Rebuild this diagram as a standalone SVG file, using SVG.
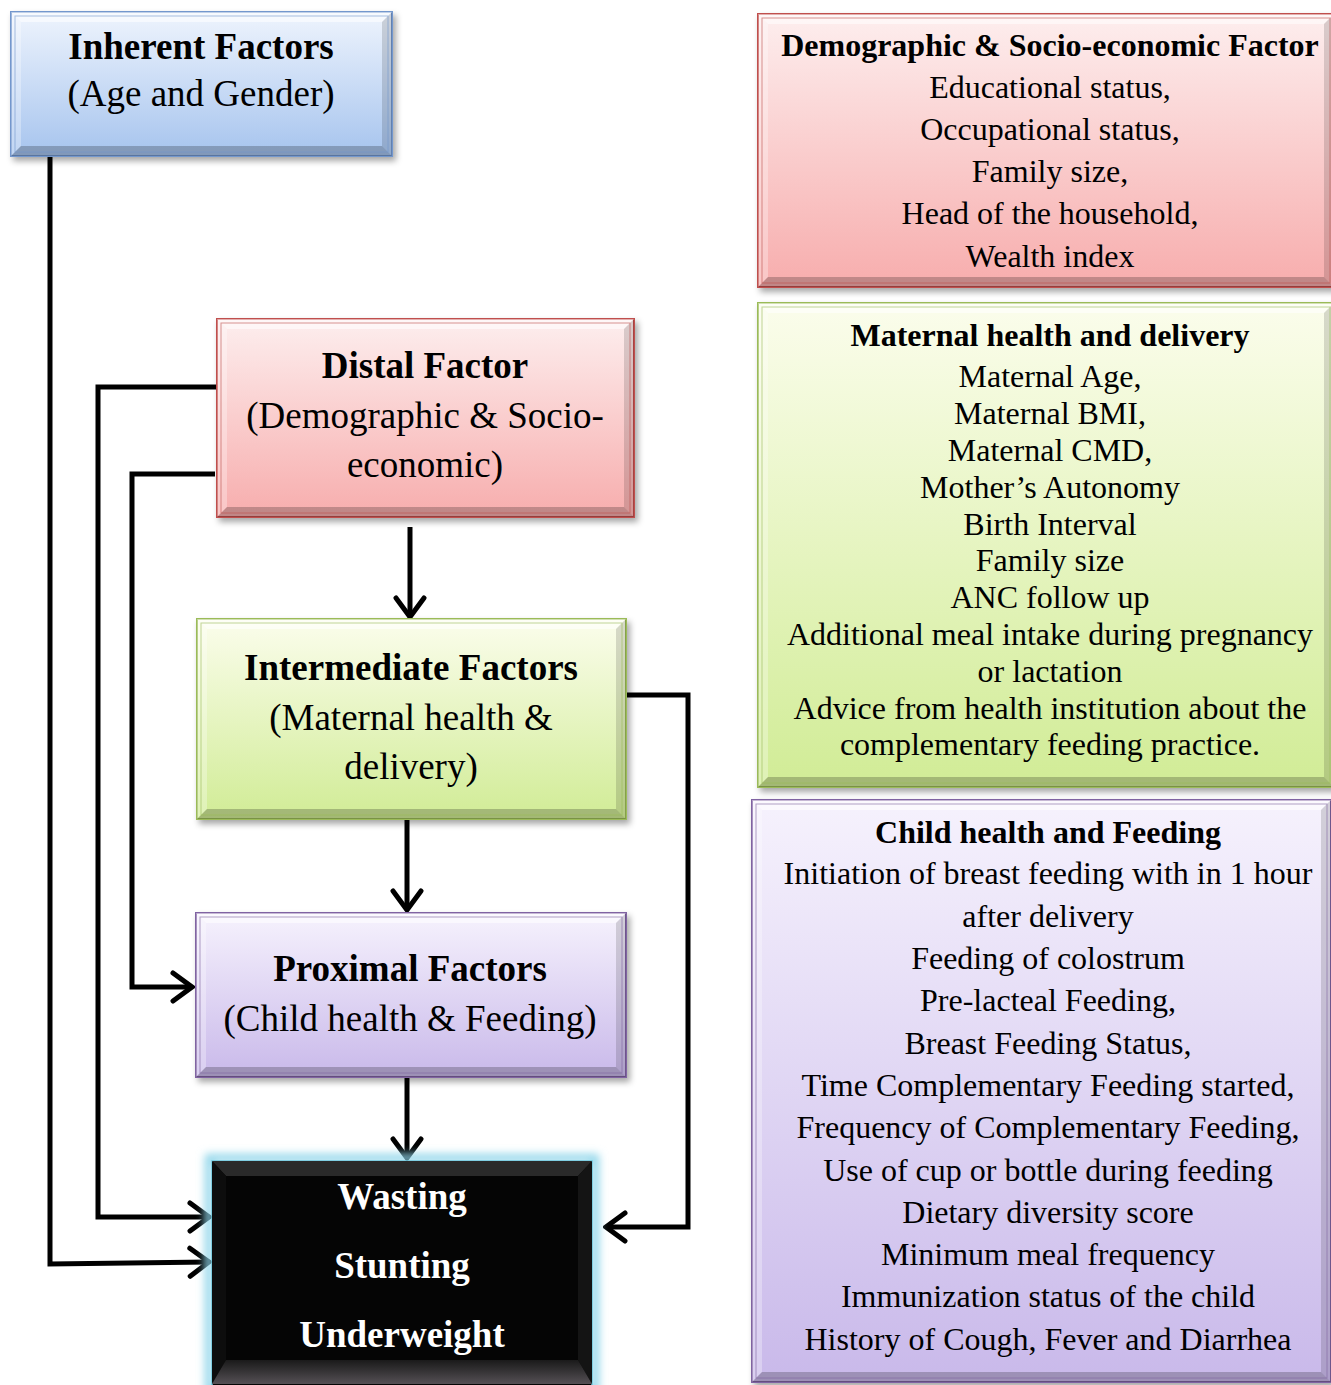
<svg xmlns="http://www.w3.org/2000/svg" width="1331" height="1385" viewBox="0 0 1331 1385">
<style>
text{font-family:"Liberation Serif","Times New Roman",serif;text-anchor:middle;fill:#000}
.lt{font-size:37px}
.b{font-weight:bold}
.rt{font-size:32px}
.wt{fill:#fff;font-weight:bold;font-size:37px}
.bt{fill:#fff;opacity:.55}
.bl{fill:#fff;opacity:.3}
.br{fill:#000;opacity:.14}
.bb{fill:#000;opacity:.22}
.conn{fill:none;stroke:#000;stroke-width:5;stroke-linejoin:miter}
</style>
<defs>
<linearGradient id="gBlue" x1="0" y1="0" x2="0" y2="1"><stop offset="0" stop-color="#eef4fd"/><stop offset="1" stop-color="#a6c4ee"/></linearGradient>
<linearGradient id="gPink" x1="0" y1="0" x2="0" y2="1"><stop offset="0" stop-color="#fdeeee"/><stop offset="1" stop-color="#f7adad"/></linearGradient>
<linearGradient id="gGreen" x1="0" y1="0" x2="0" y2="1"><stop offset="0" stop-color="#fbfdec"/><stop offset="1" stop-color="#d1ec96"/></linearGradient>
<linearGradient id="gPurple" x1="0" y1="0" x2="0" y2="1"><stop offset="0" stop-color="#f6f2fd"/><stop offset="1" stop-color="#c9b9ea"/></linearGradient>
<linearGradient id="gDarkB" x1="0" y1="0" x2="0" y2="1"><stop offset="0" stop-color="#1a1a1a"/><stop offset="1" stop-color="#555055"/></linearGradient>
<filter id="sh" x="-5%" y="-5%" width="112%" height="115%"><feDropShadow dx="3" dy="4" stdDeviation="3" flood-color="#000" flood-opacity="0.35"/></filter>
<filter id="glow" x="-10%" y="-10%" width="120%" height="120%"><feGaussianBlur stdDeviation="4"/></filter>
<marker id="arr" viewBox="0 0 26 34" refX="23" refY="17" markerWidth="26" markerHeight="34" markerUnits="userSpaceOnUse" orient="auto"><path d="M4,3 L23,17 L4,31" fill="none" stroke="#000" stroke-width="5" stroke-linecap="round"/></marker>
</defs>
<rect width="1331" height="1385" fill="#fff"/>

<g id="connectors">
<path class="conn" d="M50,156 V1264 L209,1262" marker-end="url(#arr)"/>
<path class="conn" d="M217,387 H98 V1217 H209" marker-end="url(#arr)"/>
<path class="conn" d="M215,474 H132 V987 H192" marker-end="url(#arr)"/>
<path class="conn" d="M410,527 V617" marker-end="url(#arr)"/>
<path class="conn" d="M407,819 V910" marker-end="url(#arr)"/>
<path class="conn" d="M407,1077 V1158" marker-end="url(#arr)"/>
<path class="conn" d="M626,695 H688 V1227 H606" marker-end="url(#arr)"/>
</g>

<g id="inherent">
<rect x="11" y="12" width="381" height="144" fill="url(#gBlue)" stroke="#7397cd" stroke-width="2" filter="url(#sh)"/>
<polygon class="bt" points="11,12 392,12 382,22 21,22"/>
<polygon class="bl" points="11,12 21,22 21,146 11,156"/>
<polygon class="br" points="392,12 392,156 382,146 382,22"/>
<polygon class="bb" points="11,156 392,156 382,146 21,146"/>
<rect x="15" y="16" width="373" height="136" fill="none" stroke="#7397cd" stroke-width="1" opacity=".6"/>
<text class="lt b" x="201" y="59">Inherent Factors</text>
<text class="lt" x="201" y="106">(Age and Gender)</text>
</g>

<g id="distal">
<rect x="217" y="319" width="417" height="198" fill="url(#gPink)" stroke="#c0504d" stroke-width="2" filter="url(#sh)"/>
<polygon class="bt" points="217,319 634,319 624,329 227,329"/>
<polygon class="bl" points="217,319 227,329 227,507 217,517"/>
<polygon class="br" points="634,319 634,517 624,507 624,329"/>
<polygon class="bb" points="217,517 634,517 624,507 227,507"/>
<rect x="221" y="323" width="409" height="190" fill="none" stroke="#c0504d" stroke-width="1" opacity=".6"/>
<text class="lt b" x="425" y="378">Distal Factor</text>
<text class="lt" x="425" y="428">(Demographic &amp; Socio-</text>
<text class="lt" x="425" y="477">economic)</text>
</g>

<g id="intermediate">
<rect x="197" y="619" width="429" height="200" fill="url(#gGreen)" stroke="#9bbb59" stroke-width="2" filter="url(#sh)"/>
<polygon class="bt" points="197,619 626,619 616,629 207,629"/>
<polygon class="bl" points="197,619 207,629 207,809 197,819"/>
<polygon class="br" points="626,619 626,819 616,809 616,629"/>
<polygon class="bb" points="197,819 626,819 616,809 207,809"/>
<rect x="201" y="623" width="421" height="192" fill="none" stroke="#9bbb59" stroke-width="1" opacity=".6"/>
<text class="lt b" x="411" y="680">Intermediate Factors</text>
<text class="lt" x="411" y="730">(Maternal health &amp;</text>
<text class="lt" x="411" y="779">delivery)</text>
</g>

<g id="proximal">
<rect x="196" y="913" width="430" height="164" fill="url(#gPurple)" stroke="#8064a2" stroke-width="2" filter="url(#sh)"/>
<polygon class="bt" points="196,913 626,913 616,923 206,923"/>
<polygon class="bl" points="196,913 206,923 206,1067 196,1077"/>
<polygon class="br" points="626,913 626,1077 616,1067 616,923"/>
<polygon class="bb" points="196,1077 626,1077 616,1067 206,1067"/>
<rect x="200" y="917" width="422" height="156" fill="none" stroke="#8064a2" stroke-width="1" opacity=".6"/>
<text class="lt b" x="410" y="981">Proximal Factors</text>
<text class="lt" x="410" y="1031">(Child health &amp; Feeding)</text>
</g>

<g id="outcome">
<rect x="209" y="1158" width="386" height="232" fill="none" stroke="#8fd6ea" stroke-width="8" filter="url(#glow)"/>
<rect x="212" y="1161" width="380" height="226" fill="#050505" stroke="#6cc6dc" stroke-width="1.5"/>
<polygon fill="#2a2a2a" points="212,1161 592,1161 578,1176 226,1176"/>
<polygon fill="#0d0d0d" points="212,1161 226,1176 226,1360 212,1384"/>
<polygon fill="#141414" points="592,1161 592,1384 578,1360 578,1176"/>
<polygon fill="url(#gDarkB)" points="212,1384 592,1384 578,1360 226,1360"/>
<text class="wt" x="402" y="1209">Wasting</text>
<text class="wt" x="402" y="1278">Stunting</text>
<text class="wt" x="402" y="1347">Underweight</text>
</g>

<g id="demographic-details">
<rect x="758" y="14" width="576" height="273" fill="url(#gPink)" stroke="#c0504d" stroke-width="2" filter="url(#sh)"/>
<polygon class="bt" points="758,14 1334,14 1324,24 768,24"/>
<polygon class="bl" points="758,14 768,24 768,277 758,287"/>
<polygon class="br" points="1334,14 1334,287 1324,277 1324,24"/>
<polygon class="bb" points="758,287 1334,287 1324,277 768,277"/>
<rect x="762" y="18" width="568" height="265" fill="none" stroke="#c0504d" stroke-width="1" opacity=".6"/>
<text class="rt b" x="1050" y="56">Demographic &amp; Socio-economic Factor</text>
<text class="rt" x="1050" y="98">Educational status,</text>
<text class="rt" x="1050" y="140">Occupational status,</text>
<text class="rt" x="1050" y="182">Family size,</text>
<text class="rt" x="1050" y="224">Head of the household,</text>
<text class="rt" x="1050" y="267">Wealth index</text>
</g>

<g id="maternal-details">
<rect x="758" y="303" width="576" height="484" fill="url(#gGreen)" stroke="#9bbb59" stroke-width="2" filter="url(#sh)"/>
<polygon class="bt" points="758,303 1334,303 1324,313 768,313"/>
<polygon class="bl" points="758,303 768,313 768,777 758,787"/>
<polygon class="br" points="1334,303 1334,787 1324,777 1324,313"/>
<polygon class="bb" points="758,787 1334,787 1324,777 768,777"/>
<rect x="762" y="307" width="568" height="476" fill="none" stroke="#9bbb59" stroke-width="1" opacity=".6"/>
<text class="rt b" x="1050" y="346">Maternal health and delivery</text>
<text class="rt" x="1050" y="387">Maternal Age,</text>
<text class="rt" x="1050" y="424">Maternal BMI,</text>
<text class="rt" x="1050" y="461">Maternal CMD,</text>
<text class="rt" x="1050" y="498">Mother’s Autonomy</text>
<text class="rt" x="1050" y="535">Birth Interval</text>
<text class="rt" x="1050" y="571">Family size</text>
<text class="rt" x="1050" y="608">ANC follow up</text>
<text class="rt" x="1050" y="645">Additional meal intake during pregnancy</text>
<text class="rt" x="1050" y="682">or lactation</text>
<text class="rt" x="1050" y="719">Advice from health institution about the</text>
<text class="rt" x="1050" y="755">complementary feeding practice.</text>
</g>

<g id="child-details">
<rect x="752" y="800" width="579" height="582" fill="url(#gPurple)" stroke="#8064a2" stroke-width="2" filter="url(#sh)"/>
<polygon class="bt" points="752,800 1331,800 1321,810 762,810"/>
<polygon class="bl" points="752,800 762,810 762,1372 752,1382"/>
<polygon class="br" points="1331,800 1331,1382 1321,1372 1321,810"/>
<polygon class="bb" points="752,1382 1331,1382 1321,1372 762,1372"/>
<rect x="756" y="804" width="571" height="574" fill="none" stroke="#8064a2" stroke-width="1" opacity=".6"/>
<text class="rt b" x="1048" y="843">Child health and Feeding</text>
<text class="rt" x="1048" y="884">Initiation of breast feeding with in 1 hour</text>
<text class="rt" x="1048" y="927">after delivery</text>
<text class="rt" x="1048" y="969">Feeding of colostrum</text>
<text class="rt" x="1048" y="1011">Pre-lacteal Feeding,</text>
<text class="rt" x="1048" y="1054">Breast Feeding Status,</text>
<text class="rt" x="1048" y="1096">Time Complementary Feeding started,</text>
<text class="rt" x="1048" y="1138">Frequency of Complementary Feeding,</text>
<text class="rt" x="1048" y="1181">Use of cup or bottle during feeding</text>
<text class="rt" x="1048" y="1223">Dietary diversity score</text>
<text class="rt" x="1048" y="1265">Minimum meal frequency</text>
<text class="rt" x="1048" y="1307">Immunization status of the child</text>
<text class="rt" x="1048" y="1350">History of Cough, Fever and Diarrhea</text>
</g>
</svg>
